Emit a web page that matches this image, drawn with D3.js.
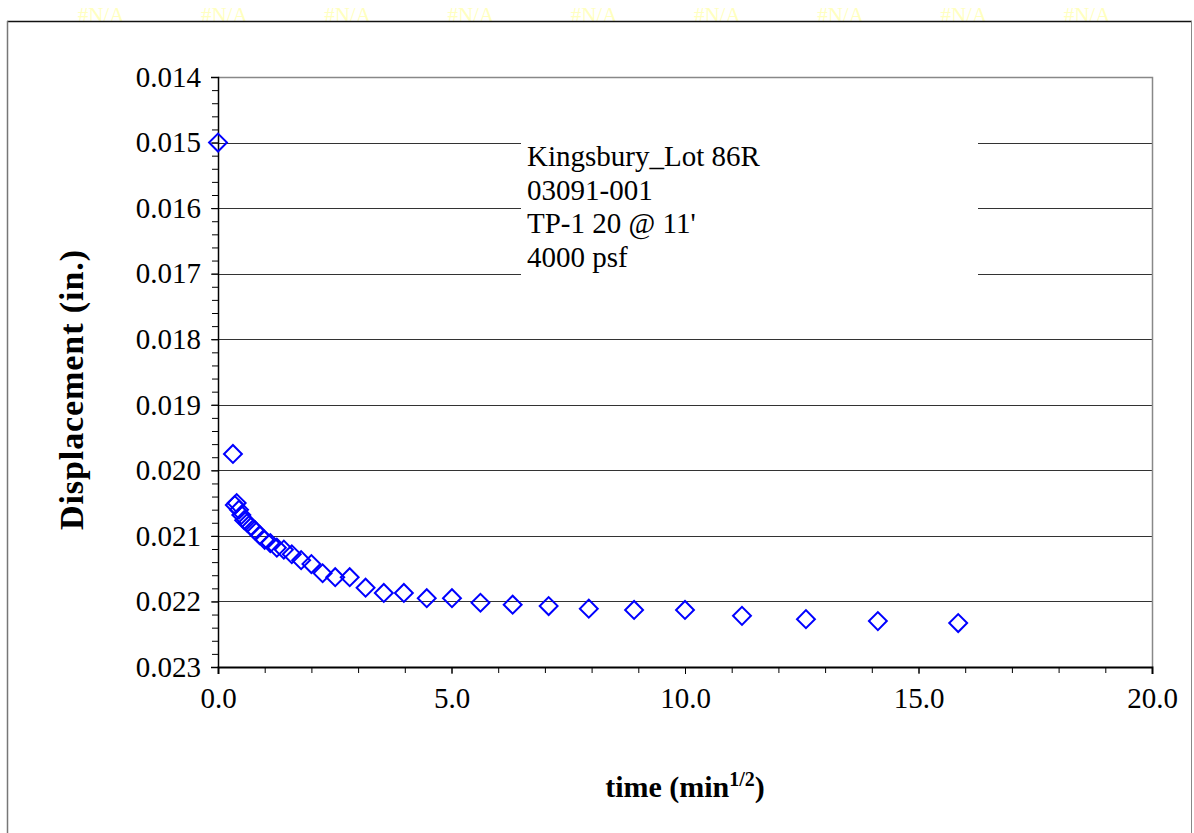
<html>
<head>
<script src="https://d3js.org/d3.v7.min.js"></script>
<style>
  body { margin: 0; background: #fff; }
  text { font-family: "Liberation Serif", "Times New Roman", serif; }
  .tick text { font-size: 29px; fill: #000; }
  .domain { stroke: #000; }
</style>
</head>
<body>
<svg id="chart" width="1194" height="833"></svg>
<script>
// square root of elapsed time (min^1/2)
const timeRoot = [0, 0.32, 0.36, 0.40, 0.45, 0.50, 0.56, 0.63, 0.71, 0.79, 0.89, 1.00, 1.12, 1.26,
  1.41, 1.58, 1.78, 2.00, 2.24, 2.51, 2.82, 3.16, 3.55, 3.98, 4.47, 5.01, 5.62, 6.31, 7.08,
  7.94, 8.91, 10.00, 11.22, 12.59, 14.13, 15.85];
// dial reading (in.)
const displacement = [0.01500, 0.01975, 0.02053, 0.02050, 0.02060, 0.02068, 0.02076, 0.02080,
  0.02086, 0.02091, 0.02099, 0.02106, 0.02111, 0.02118, 0.02121, 0.02128, 0.02137, 0.02143,
  0.02157, 0.02163, 0.02163, 0.02179, 0.02187, 0.02187, 0.02195, 0.02195, 0.02202, 0.02205,
  0.02207, 0.02211, 0.02213, 0.02213, 0.02222, 0.02227, 0.02230, 0.02233];
const yTicks = [0.014, 0.015, 0.016, 0.017, 0.018, 0.019, 0.020, 0.021, 0.022, 0.023];
const xTicks = [0, 5, 10, 15, 20];
const noteLines = ["Kingsbury_Lot 86R", "03091-001", "TP-1 20 @ 11'", "4000 psf"];
const naLabels = ["#N/A", "#N/A", "#N/A", "#N/A", "#N/A", "#N/A", "#N/A", "#N/A", "#N/A"];

const serif = "'Liberation Serif', 'Times New Roman', serif";
const points = timeRoot.map((t, i) => ({ t: t, d: displacement[i] }));

const svg = d3.select("svg#chart");
const plot = { left: 218, right: 1152, top: 77, bottom: 667 };

const xScale = d3.scaleLinear().domain([0, 20]).range([plot.left, plot.right]);
const yScale = d3.scaleLinear().domain([0.014, 0.023]).range([plot.top, plot.bottom]);

svg.append("rect").attr("width", 1194).attr("height", 833).attr("fill", "#fff");

// hidden series labels above the frame
const naScale = d3.scalePoint().domain(d3.range(naLabels.length)).range([101, 1087]);
svg.append("g").selectAll("text").data(naLabels)
  .join("text")
  .attr("x", (d, i) => naScale(i))
  .attr("y", 22)
  .attr("text-anchor", "middle")
  .attr("font-family", serif)
  .attr("font-size", 21)
  .attr("fill", "#ffffc0")
  .text(d => d);

// chart frame
svg.append("line").attr("x1", 7).attr("x2", 1192).attr("y1", 21.5).attr("y2", 21.5)
  .attr("stroke", "#111").attr("stroke-width", 1.5);
svg.append("line").attr("x1", 7.5).attr("x2", 7.5).attr("y1", 21).attr("y2", 833)
  .attr("stroke", "#777").attr("stroke-width", 1.5);
svg.append("line").attr("x1", 1191.5).attr("x2", 1191.5).attr("y1", 21).attr("y2", 833)
  .attr("stroke", "#888").attr("stroke-width", 1);

// gridlines
svg.append("g").selectAll("line").data(yTicks.slice(1, -1))
  .join("line")
  .attr("x1", plot.left).attr("x2", plot.right)
  .attr("y1", d => Math.round(yScale(d)) + 0.5).attr("y2", d => Math.round(yScale(d)) + 0.5)
  .attr("stroke", "#333").attr("stroke-width", 1);

// plot border (top and right)
svg.append("path")
  .attr("d", `M${plot.left},${plot.top + 0.5}H${plot.right + 0.5}V${plot.bottom}`)
  .attr("fill", "none").attr("stroke", "#888").attr("stroke-width", 1.5);

// annotation box
const note = svg.append("g").attr("font-family", serif);
note.append("rect").attr("x", 521).attr("y", 132).attr("width", 457).attr("height", 152)
  .attr("fill", "#fff");
note.selectAll("text").data(noteLines)
  .join("text")
  .attr("x", 527)
  .attr("y", (d, i) => 166 + i * 33.5)
  .attr("font-size", 29)
  .text(d => d);

// minor ticks
const yMinor = d3.axisLeft(yScale).tickValues(d3.range(0, 46).map(i => 0.014 + i * 0.0002))
  .tickSize(6).tickFormat("");
svg.append("g").attr("transform", `translate(${plot.left},0)`).call(yMinor)
  .call(g => g.select(".domain").remove());
const xMinor = d3.axisBottom(xScale).tickValues(d3.range(0, 21)).tickSize(6).tickFormat("");
svg.append("g").attr("transform", `translate(0,${plot.bottom})`).call(xMinor)
  .call(g => g.select(".domain").remove());

// major axes
const yAxis = d3.axisLeft(yScale).tickValues(yTicks).tickSize(7).tickPadding(10)
  .tickFormat(d3.format(".3f"));
svg.append("g").attr("transform", `translate(${plot.left},0)`).call(yAxis)
  .attr("font-family", serif)
  .call(g => g.select(".domain").attr("stroke-width", 1.5));

const xAxis = d3.axisBottom(xScale).tickValues(xTicks).tickSize(7).tickPadding(13)
  .tickFormat(d3.format(".1f"));
svg.append("g").attr("transform", `translate(0,${plot.bottom})`).call(xAxis)
  .attr("font-family", serif)
  .call(g => g.select(".domain").attr("stroke-width", 2));

svg.selectAll(".tick line").attr("stroke", "#000");

// axis titles
svg.append("text")
  .attr("transform", `translate(83,390) rotate(-90)`)
  .attr("text-anchor", "middle")
  .attr("font-family", serif)
  .attr("font-size", 34).attr("font-weight", "bold")
  .attr("textLength", 280).attr("lengthAdjust", "spacing")
  .text("Displacement (in.)");

const xt = svg.append("text")
  .attr("x", 685).attr("y", 797)
  .attr("text-anchor", "middle")
  .attr("font-family", serif)
  .attr("font-size", 30).attr("font-weight", "bold");
xt.append("tspan").text("time (min");
xt.append("tspan").attr("font-size", 20).attr("dy", -11).text("1/2");
xt.append("tspan").attr("dy", 11).text(")");

// data markers
const diamond = d3.symbol().type(d3.symbolSquare).size(160);
svg.append("g").selectAll("path").data(points)
  .join("path")
  .attr("d", diamond)
  .attr("transform", d => `translate(${xScale(d.t)},${yScale(d.d)}) rotate(45)`)
  .attr("fill", "none")
  .attr("stroke", "#0000ff")
  .attr("stroke-width", 2);
</script>
</body>
</html>
